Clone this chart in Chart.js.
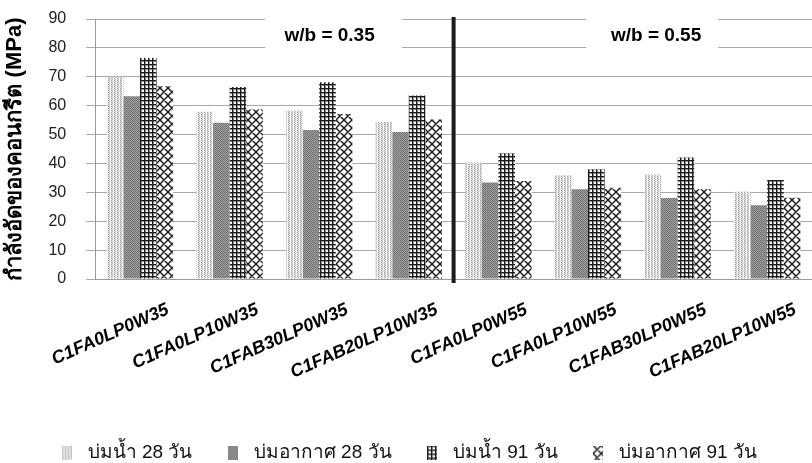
<!DOCTYPE html>
<html>
<head>
<meta charset="utf-8">
<script src="https://cdn.jsdelivr.net/npm/chart.js@4.4.1/dist/chart.umd.min.js"></script>
<style>
  html, body { margin: 0; padding: 0; background: #ffffff; }
  #wrap { width: 812px; height: 463px; position: relative; }
</style>
</head>
<body>
<div id="wrap"><canvas id="c"></canvas></div>
<script>
// Mix designs (x-axis categories)
const categories = [
  'C1FA0LP0W35', 'C1FA0LP10W35', 'C1FAB30LP0W35', 'C1FAB20LP10W35',
  'C1FA0LP0W55', 'C1FA0LP10W55', 'C1FAB30LP0W55', 'C1FAB20LP10W55'
];

// Compressive strength (MPa) for each curing condition
const water28 = [70.0, 57.9, 58.3, 54.4, 40.3, 35.9, 36.2, 30.3];
const air28   = [63.3, 54.1, 51.6, 50.9, 33.4, 31.1, 28.0, 25.5];
const water91 = [76.5, 66.5, 68.1, 63.5, 43.5, 38.0, 42.1, 34.3];
const air91   = [66.7, 58.7, 57.1, 55.2, 33.9, 31.6, 31.1, 28.1];

const seriesLabels = ['บ่มน้ำ 28 วัน', 'บ่มอากาศ 28 วัน', 'บ่มน้ำ 91 วัน', 'บ่มอากาศ 91 วัน'];
const yTicks = [0, 10, 20, 30, 40, 50, 60, 70, 80, 90];
const groupNotes = ['w/b = 0.35', 'w/b = 0.55'];

const FONT = '"Liberation Sans", Arial, Helvetica, sans-serif';

// ---- fill patterns ----
function makeTile(w, h, paint) {
  const cv = document.createElement('canvas');
  cv.width = w; cv.height = h;
  paint(cv.getContext('2d'), w, h);
  return cv;
}
function toPattern(tile) {
  return document.createElement('canvas').getContext('2d').createPattern(tile, 'repeat');
}

// fine light stipple
const tileLight = makeTile(3, 2, (g) => {
  g.fillStyle = '#e6e6e6'; g.fillRect(0, 0, 3, 2);
  g.fillStyle = '#9a9a9a'; g.fillRect(0, 0, 1, 1);
  g.fillStyle = '#b8b8b8'; g.fillRect(1, 1, 1, 1);
  g.fillStyle = '#f6f6f6'; g.fillRect(2, 0, 1, 2);
});
// dense mid-grey checker
const tileDark = makeTile(2, 2, (g) => {
  g.fillStyle = '#a4a4a4'; g.fillRect(0, 0, 2, 2);
  g.fillStyle = '#6e6e6e'; g.fillRect(0, 0, 1, 1); g.fillRect(1, 1, 1, 1);
});
// square grid
const tileGrid = makeTile(4, 4, (g) => {
  g.fillStyle = '#ffffff'; g.fillRect(0, 0, 4, 4);
  g.fillStyle = '#8c8c8c'; g.fillRect(0, 1, 4, 1); g.fillRect(1, 0, 1, 4);
  g.fillStyle = '#1a1a1a'; g.fillRect(0, 0, 4, 1); g.fillRect(0, 0, 1, 4);
});
// diagonal lattice
const tileLattice = makeTile(8, 8, (g) => {
  g.fillStyle = '#ffffff'; g.fillRect(0, 0, 8, 8);
  g.strokeStyle = '#1a1a1a'; g.lineWidth = 1.4;
  g.beginPath();
  for (let k = -8; k <= 16; k += 8) {
    g.moveTo(k, 0); g.lineTo(k + 8, 8);
    g.moveTo(k + 8, 0); g.lineTo(k, 8);
  }
  g.stroke();
});

const tiles = [tileLight, tileDark, tileGrid, tileLattice];
const pats = tiles.map(toPattern);

// small swatches for the legend
const swatches = tiles.map((t) => makeTile(10, 14, (g) => {
  g.fillStyle = g.createPattern(t, 'repeat');
  g.fillRect(0, 0, 10, 14);
}));

// ---- plugins: series divider and group notes ----
const groupDivider = {
  id: 'groupDivider',
  afterDatasetsDraw(chart) {
    const { ctx, chartArea, scales } = chart;
    const xs = scales.x;
    const xMid = (xs.getPixelForValue(3) + xs.getPixelForValue(4)) / 2;
    ctx.save();
    ctx.strokeStyle = '#1c1c1c';
    ctx.lineWidth = 4;
    ctx.beginPath();
    ctx.moveTo(xMid, chartArea.top - 2);
    ctx.lineTo(xMid, chartArea.bottom + 4);
    ctx.stroke();
    ctx.restore();
  }
};

const groupNotesPlugin = {
  id: 'groupNotes',
  afterDatasetsDraw(chart) {
    const { ctx, chartArea } = chart;
    const w = chartArea.right - chartArea.left;
    const boxes = [
      { cx: 0.3326, tx: 0.327, bw: 137 },
      { cx: 0.777, tx: 0.7825, bw: 132 }
    ];
    const ys = chart.scales.y;
    const yc = ys.getPixelForValue(84.2);
    ctx.save();
    boxes.forEach((b, i) => {
      const cx = chartArea.left + b.cx * w;
      ctx.fillStyle = '#ffffff';
      ctx.fillRect(cx - b.bw / 2, yc - 23, b.bw, 45);
      ctx.fillStyle = '#000000';
      ctx.font = 'bold 19px ' + FONT;
      ctx.textAlign = 'center';
      ctx.textBaseline = 'middle';
      ctx.fillText(groupNotes[i], chartArea.left + b.tx * w, yc);
    });
    ctx.restore();
  }
};

const values = [water28, air28, water91, air91];

new Chart(document.getElementById('c'), {
  type: 'bar',
  data: {
    labels: categories,
    datasets: values.map((v, i) => ({
      label: seriesLabels[i],
      data: v,
      backgroundColor: pats[i],
      borderWidth: 0,
      categoryPercentage: 0.74,
      barPercentage: 1.0
    }))
  },
  options: {
    responsive: true,
    maintainAspectRatio: false,
    animation: false,
    layout: { padding: { top: 19, left: 0, right: 0, bottom: -9 } },
    plugins: {
      tooltip: { enabled: false },
      legend: {
        position: 'bottom',
        labels: {
          usePointStyle: true,
          pointStyleWidth: 23,
          boxHeight: 14,
          padding: 29,
          color: '#111',
          font: { family: FONT, size: 19 },
          generateLabels(chart) {
            const items = Chart.defaults.plugins.legend.labels.generateLabels(chart);
            items.forEach((it) => { it.pointStyle = swatches[it.datasetIndex]; it.lineWidth = 0; });
            return items;
          }
        }
      }
    },
    scales: {
      x: {
        grid: { display: false },
        border: { display: true, color: '#9a9a9a', width: 1 },
        ticks: {
          color: '#000',
          font: { family: FONT, size: 18, weight: 'bold', style: 'italic' },
          minRotation: 24,
          maxRotation: 24,
          autoSkip: false,
          labelOffset: 28,
          padding: 12
        },
        afterFit(scale) {
          scale.paddingLeft = 0;
          scale.paddingRight = 0;
          scale.height = 135;
        }
      },
      y: {
        min: 0,
        max: 90,
        afterBuildTicks(scale) { scale.ticks = yTicks.map(v => ({ value: v })); },
        afterFit(scale) {
          scale.paddingTop = 0;
          scale.paddingBottom = 0;
        },
        grid: { color: '#a8a8a8', lineWidth: 1, tickLength: 9, drawTicks: true },
        border: { display: true, color: '#9a9a9a' },
        ticks: {
          color: '#222',
          font: { family: FONT, size: 16 },
          padding: 20
        },
        title: {
          display: true,
          text: 'กำลังอัดของคอนกรีต (MPa)',
          color: '#000',
          font: { family: FONT, size: 22, weight: 'bold' },
          padding: { top: 2, bottom: 0 }
        }
      }
    }
  },
  plugins: [groupDivider, groupNotesPlugin]
});
</script>
</body>
</html>
